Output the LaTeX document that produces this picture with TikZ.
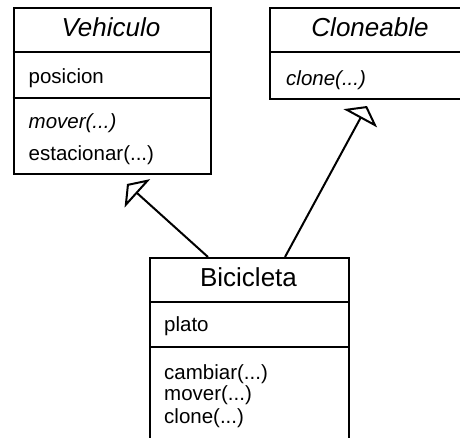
\documentclass[tikz,border=0pt]{standalone}
\usepackage{fontspec}
\setmainfont{Liberation Sans}
\usetikzlibrary{arrows.meta}
\tikzset{
  classbox/.style={draw=black, line width=2.4pt, rectangle, inner sep=0pt, anchor=north west},
  divider/.style={line width=2.4pt},
  titletext/.style={anchor=base, inner sep=0pt, font=\fontsize{26}{26}\selectfont},
  itemtext/.style={anchor=base west, inner sep=0pt, font=\fontsize{20.5}{22}\selectfont},
  inherit/.style={line width=2pt, -{Triangle[open, length=14pt, width=38pt]}},
}
\begin{document}
\begin{tikzpicture}[x=1pt,y=-1pt]
\clip (0,0) rectangle (460,437);
\fill[white] (0,0) rectangle (460,437);
% Vehiculo
\node[classbox, minimum width=197pt, minimum height=166pt] (veh) at (12.5,7) {};
\draw[divider] (veh.west |- 0,52) -- (veh.east |- 0,52);
\draw[divider] (veh.west |- 0,98) -- (veh.east |- 0,98);
\node[titletext] (vehT) at (111,36.5) {\itshape Vehiculo};
\node[itemtext] (vehA) at (28.5,83.5) {posicion};
\node[itemtext] (vehM1) at (28.5,128) {\itshape mover(...)};
\node[itemtext] (vehM2) at (28.5,160) {estacionar(...)};
% Cloneable
\node[classbox, minimum width=204pt, minimum height=91pt] (clo) at (269,7) {};
\draw[divider] (clo.west |- 0,52) -- (clo.east |- 0,52);
\node[titletext] (cloT) at (370,36) {\itshape Cloneable};
\node[itemtext] (cloM1) at (286,85) {\itshape clone(...)};
% Bicicleta
\node[classbox, minimum width=199pt, minimum height=185pt] (bic) at (149,257) {};
\draw[divider] (bic.west |- 0,302) -- (bic.east |- 0,302);
\draw[divider] (bic.west |- 0,347) -- (bic.east |- 0,347);
\node[titletext] (bicT) at (248.5,286.5) {Bicicleta};
\node[itemtext] (bicA) at (164,331.5) {plato};
\node[itemtext] (bicM1) at (164,379) {cambiar(...)};
\node[itemtext] (bicM2) at (164,400.5) {mover(...)};
\node[itemtext] (bicM3) at (164,423) {clone(...)};
% Inheritance arrows
\coordinate (vfoot) at (208,257);
\coordinate (vtip) at (127,184);
\coordinate (cfoot) at (285,257);
\coordinate (ctip) at (367,106);
\draw[inherit] (vfoot) -- (vtip);
\draw[inherit] (cfoot) -- (ctip);
\end{tikzpicture}
\end{document}
